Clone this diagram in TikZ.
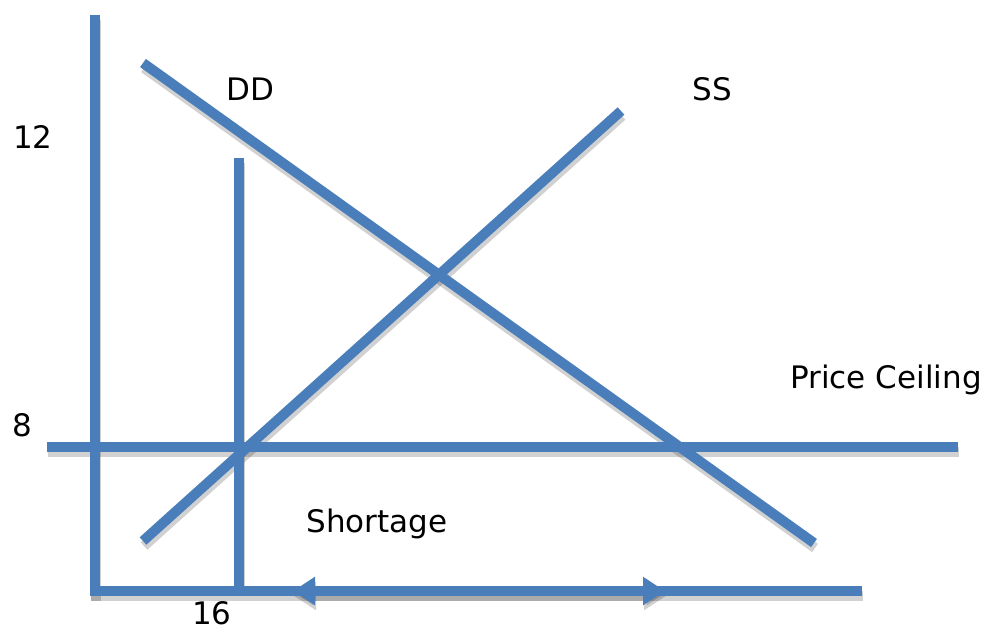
\documentclass[tikz,border=0pt]{standalone}
\usepackage{fontspec}
\setmainfont{DejaVu Sans}
\usetikzlibrary{arrows.meta}
\definecolor{lineblue}{RGB}{74,126,187}
\tikzset{
  curve/.style={draw=lineblue, line width=10pt},
  shadowline/.style={draw=black, opacity=0.18, line width=10pt},
  lbl/.style={font=\fontsize{31}{31}\selectfont, anchor=base, inner sep=0pt},
  bigtip/.style={{Triangle[length=22pt,width=27pt]}-{Triangle[length=22pt,width=27pt]}},
}
\begin{document}
\begin{tikzpicture}[x=1pt,y=-1pt]
\useasboundingbox (0,0) rectangle (987,630);
% end points of the lines
\coordinate (yTop) at (94.5,15);
\coordinate (yBot) at (94.5,596);
\coordinate (xLeft) at (90,591);
\coordinate (xRight) at (862,591);
\coordinate (qTop) at (238.5,158);
\coordinate (qBot) at (238.5,591);
\coordinate (pcLeft) at (47,446.5);
\coordinate (pcRight) at (958,446.5);
\coordinate (ddTop) at (143,63);
\coordinate (ddBot) at (814,543);
\coordinate (ssBot) at (143,541);
\coordinate (ssTop) at (621,111);
\coordinate (arrL) at (293,591);
\coordinate (arrR) at (665,591);
% drop shadows
\begin{scope}[transform canvas={xshift=1pt,yshift=-5pt}]
  \draw[shadowline] (yTop) -- (yBot);
  \draw[shadowline] (xLeft) -- (xRight);
  \draw[shadowline] (qTop) -- (qBot);
  \draw[shadowline] (pcLeft) -- (pcRight);
  \draw[shadowline] (ddTop) -- (ddBot);
  \draw[shadowline] (ssBot) -- (ssTop);
  \draw[shadowline, bigtip] (arrL) -- (arrR);
\end{scope}
% axes, curves and the shortage arrow
\draw[curve] (yTop) -- (yBot);
\draw[curve] (xLeft) -- (xRight);
\draw[curve] (qTop) -- (qBot);
\draw[curve] (pcLeft) -- (pcRight);
\draw[curve] (ddTop) -- (ddBot);
\draw[curve] (ssBot) -- (ssTop);
\draw[curve, fill=lineblue, bigtip] (arrL) -- (arrR);
% labels
\node[lbl] (ddLabel) at (250,100) {DD};
\node[lbl] (ssLabel) at (712,100) {SS};
\node[lbl] (p12) at (33,148) {12};
\node[lbl] (p8) at (22,436) {8};
\node[lbl] (q16) at (212,624) {16};
\node[lbl] (shortLabel) at (377,532) {Shortage};
\node[lbl] (pcLabel) at (886,388) {Price Ceiling};
\end{tikzpicture}
\end{document}
